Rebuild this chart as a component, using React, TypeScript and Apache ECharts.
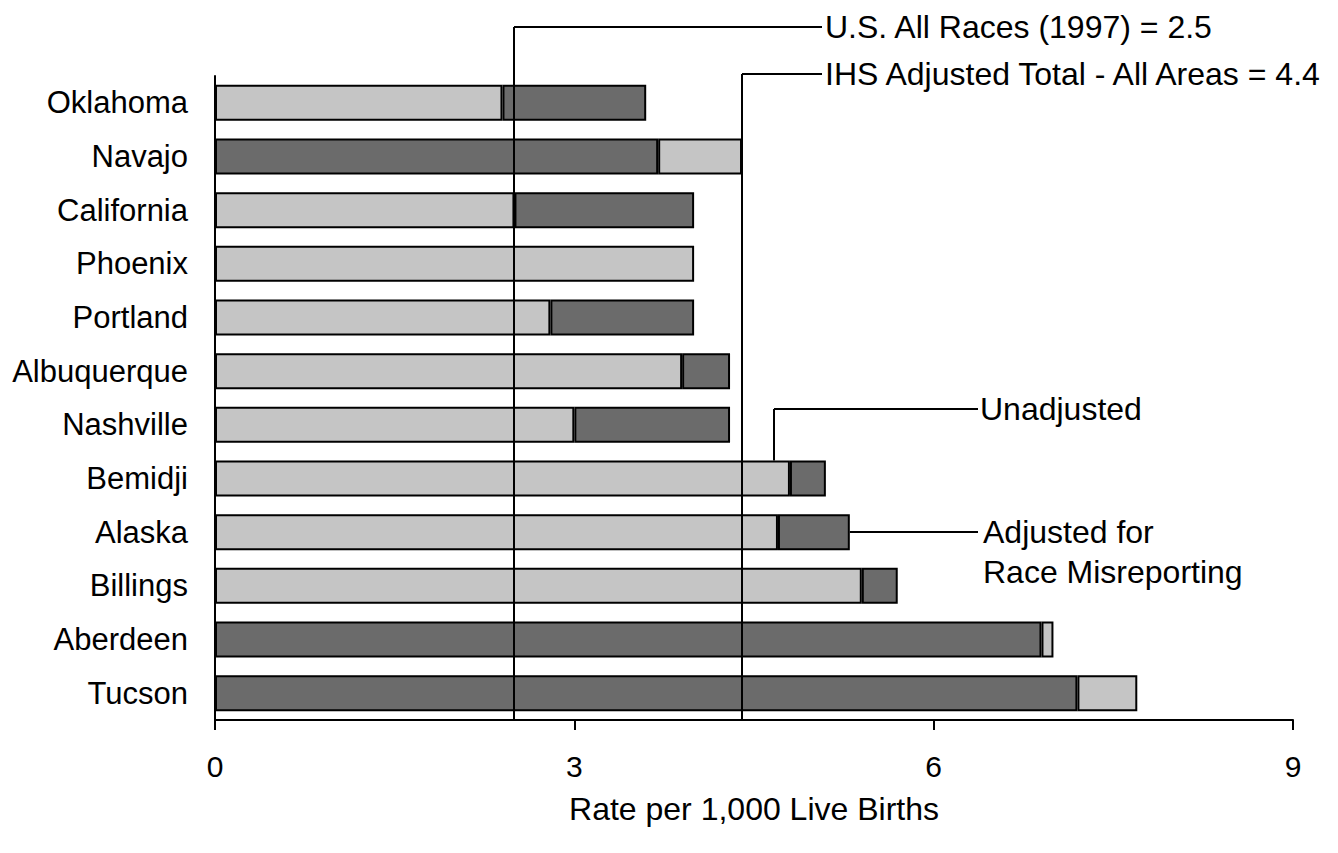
import React, { useEffect, useRef } from "react";
import * as echarts from "echarts";

const categories = [
  "Oklahoma", "Navajo", "California", "Phoenix", "Portland", "Albuquerque",
  "Nashville", "Bemidji", "Alaska", "Billings", "Aberdeen", "Tucson",
];
const unadjusted = [2.4, 4.4, 2.5, 4.0, 2.8, 3.9, 3.0, 4.8, 4.7, 5.4, 7.0, 7.7];
const adjusted = [3.6, 3.7, 4.0, 4.0, 4.0, 4.3, 4.3, 5.1, 5.3, 5.7, 6.9, 7.2];

const xMin = 0;
const xMax = 9;
const xInterval = 3;

const usAllRacesValue = 2.5;
const usAllRacesLabel = "U.S. All Races (1997) = 2.5";
const ihsTotalValue = 4.4;
const ihsTotalLabel = "IHS Adjusted Total - All Areas = 4.4";
const unadjustedLabel = "Unadjusted";
const adjustedLabel = "Adjusted for\nRace Misreporting";
const unadjustedPointerCategory = "Bemidji";
const unadjustedPointerValue = 4.67;
const adjustedPointerCategory = "Alaska";
const axisName = "Rate per 1,000 Live Births";

const LIGHT = "#c5c5c5";
const DARK = "#6b6b6b";
const FONT = "'Liberation Sans', Arial, sans-serif";
const FS = 30;
const FS_CAT = 31;
const FS_NOTE = 32;
const BAR_W = 36;

export default function App() {
  const ref = useRef<HTMLDivElement>(null);

  useEffect(() => {
    if (!ref.current) return;
    const chart = echarts.init(ref.current, undefined, { renderer: "svg" });

    const baseData = categories.map((_, i) => {
      const u = unadjusted[i];
      const a = adjusted[i];
      return {
        value: Math.min(u, a),
        itemStyle: { color: u <= a ? LIGHT : DARK },
      };
    });
    const extData = categories.map((_, i) => {
      const u = unadjusted[i];
      const a = adjusted[i];
      const d = Math.round(Math.abs(a - u) * 100) / 100;
      return {
        value: d > 0 ? d : null,
        itemStyle: { color: u < a ? DARK : LIGHT },
      };
    });

    chart.setOption({
      animation: false,
      backgroundColor: "#ffffff",
      grid: { left: 215, right: 45, top: 76, bottom: 133, containLabel: false },
      xAxis: {
        type: "value",
        min: xMin,
        max: xMax,
        interval: xInterval,
        splitLine: { show: false },
        axisLine: { show: true, lineStyle: { color: "#000", width: 2 } },
        axisTick: { show: true, inside: false, length: 10, lineStyle: { color: "#000", width: 2 } },
        axisLabel: { color: "#000", fontSize: FS, fontFamily: FONT, margin: 31 },
        name: axisName,
        nameLocation: "middle",
        nameGap: 73,
        nameTextStyle: { color: "#000", fontSize: FS_NOTE, fontFamily: FONT, verticalAlign: "top" },
      },
      yAxis: {
        type: "category",
        data: categories,
        inverse: true,
        axisLine: { show: true, lineStyle: { color: "#000", width: 2 } },
        axisTick: { show: false },
        axisLabel: { color: "#000", fontSize: FS_CAT, fontFamily: FONT, margin: 27 },
        splitLine: { show: false },
      },
      series: [
        {
          name: "base",
          type: "bar",
          stack: "s",
          barWidth: BAR_W,
          data: baseData,
          itemStyle: { borderColor: "#000", borderWidth: 2 },
        },
        {
          name: "ext",
          type: "bar",
          stack: "s",
          barWidth: BAR_W,
          data: extData,
          itemStyle: { borderColor: "#000", borderWidth: 2 },
        },
      ],
    });

    const px = (v: number) => chart.convertToPixel({ xAxisIndex: 0 }, v) as number;
    const py = (c: string) => chart.convertToPixel({ yAxisIndex: 0 }, c) as number;
    const gridBottom = 853 - 133;

    const line = (x1: number, y1: number, x2: number, y2: number) => ({
      type: "line",
      z: 100,
      shape: { x1, y1, x2, y2 },
      style: { stroke: "#000", lineWidth: 2 },
    });
    const text = (x: number, y: number, t: string) => ({
      type: "text",
      z: 100,
      x,
      y,
      style: {
        text: t,
        fill: "#000",
        font: `${FS_NOTE}px ${FONT}`,
        fontSize: FS_NOTE,
        fontFamily: FONT,
        verticalAlign: "middle",
        align: "left",
        lineHeight: 40,
      },
    });

    const usX = Math.round(px(usAllRacesValue));
    const ihsX = Math.round(px(ihsTotalValue));
    const labelLineEnd = 822;
    const unX = Math.round(px(unadjustedPointerValue));
    const unTop = py(unadjustedPointerCategory) - BAR_W / 2;
    const adjIdx = categories.indexOf(adjustedPointerCategory);
    const adjX = px(adjusted[adjIdx]);
    const adjY = Math.round(py(adjustedPointerCategory));
    const rightLineEnd = 978;

    chart.setOption({
      graphic: [
        line(usX, 27, usX, gridBottom),
        line(usX, 27, labelLineEnd, 27),
        text(825, 27, usAllRacesLabel),
        line(ihsX, 74, ihsX, gridBottom),
        line(ihsX, 74, labelLineEnd, 74),
        text(825, 74, ihsTotalLabel),
        line(unX, unTop, unX, 409),
        line(unX, 409, rightLineEnd, 409),
        text(980, 409, unadjustedLabel),
        line(adjX, adjY, rightLineEnd, adjY),
        text(983, adjY + 20, adjustedLabel),
      ],
    });

    return () => chart.dispose();
  }, []);

  return (
    <div
      ref={ref}
      style={{ position: "fixed", left: 0, top: 0, width: 1338, height: 853, background: "#fff" }}
    />
  );
}
